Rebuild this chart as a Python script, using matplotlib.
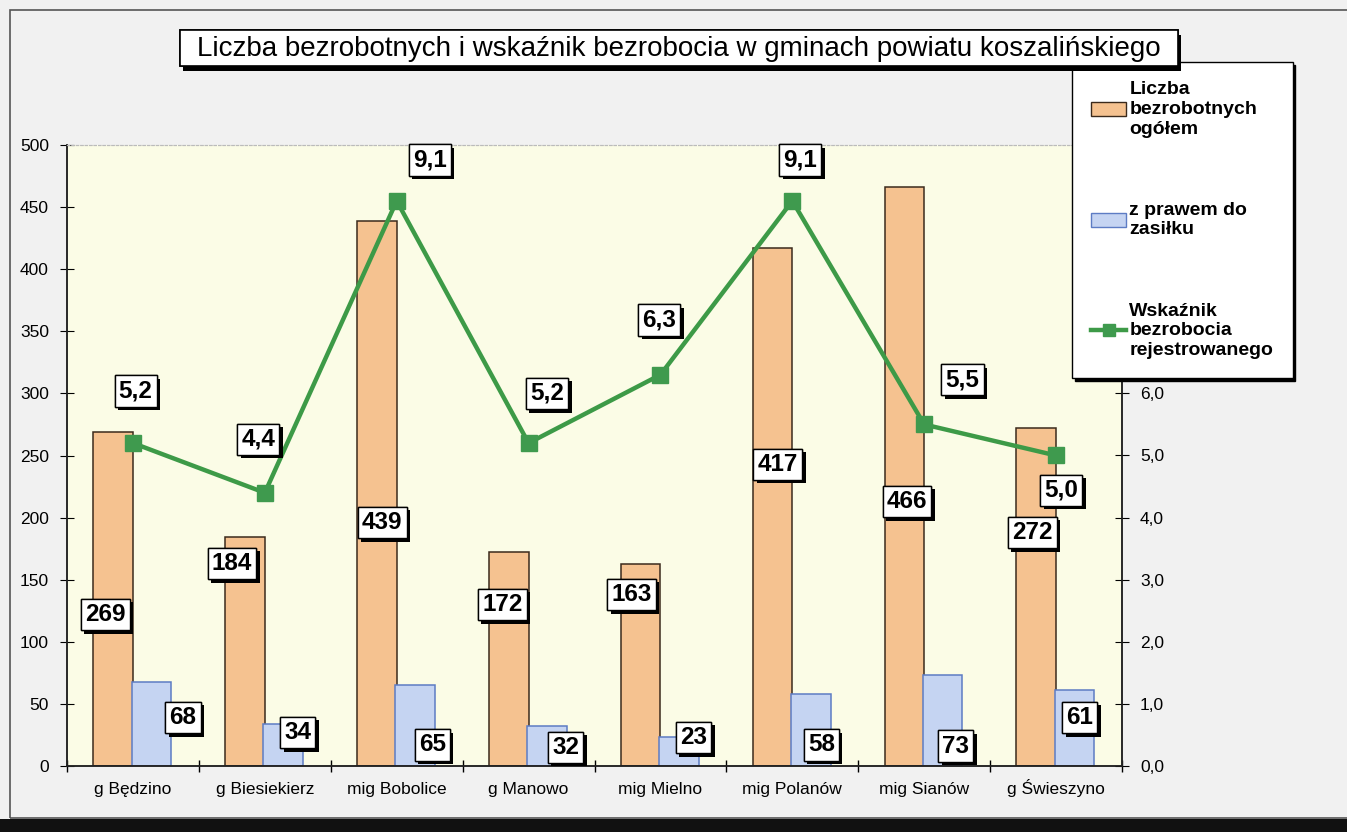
import matplotlib
matplotlib.use("Agg")
import matplotlib.pyplot as plt
import matplotlib.patheffects as pe
from matplotlib.patches import Patch, Rectangle
from matplotlib.lines import Line2D
import numpy as np

plt.rcParams['font.family'] = ['Liberation Sans', 'DejaVu Sans']

gminy = ["g Będzino", "g Biesiekierz", "mig Bobolice", "g Manowo",
         "mig Mielno", "mig Polanów", "mig Sianów", "g Świeszyno"]
bezrobotni = [269, 184, 439, 172, 163, 417, 466, 272]
z_zasilkiem = [68, 34, 65, 32, 23, 58, 73, 61]
wskaznik = [5.2, 4.4, 9.1, 5.2, 6.3, 9.1, 5.5, 5.0]

# where the data labels were dragged to (category x, left-axis y)
pos_bezr = [(-0.21, 122), (0.75, 163), (1.89, 196), (2.80, 130),
            (3.78, 138), (4.89, 243), (5.87, 213), (6.82, 188)]
pos_zas = [(0.38, 39), (1.25, 27), (2.27, 17), (3.28, 15),
           (4.25, 23), (5.22, 17), (6.24, 16), (7.18, 39)]
pos_wsk = [(0.02, 302), (0.95, 263), (2.25, 488), (3.14, 300),
           (3.99, 359), (5.06, 488), (6.29, 311), (7.04, 222)]

c_orange = "#f5c290"
c_blue = "#c5d4f2"
c_green = "#3d9a47"

shadow_fx = [pe.withSimplePatchShadow(offset=(2.5, -2.5), shadow_rgbFace="black", alpha=1),
             pe.Normal()]

fig = plt.figure(figsize=(13.47, 8.32), dpi=100)
fig.patch.set_facecolor("#f1f1f1")

# scan frame
fig.patches.append(Rectangle((10 / 1347, 14 / 832), 1.0, 1 - 24 / 832,
                             transform=fig.transFigure, fill=False,
                             edgecolor="#555555", linewidth=1.2))
fig.patches.append(Rectangle((0, 0), 1, 13 / 832, transform=fig.transFigure,
                             facecolor="#111111", edgecolor="none"))

ax = fig.add_axes([67 / 1347, 66 / 832, (1122 - 67) / 1347, (766 - 145) / 832])
ax.set_facecolor("#fbfce6")
ax2 = ax.twinx()

x = np.arange(len(gminy))
w = 0.3
ax.bar(x - 0.15, bezrobotni, w, color=c_orange, edgecolor="#3b2a1c", linewidth=1.1, zorder=2)
ax.bar(x + 0.14, z_zasilkiem, w, color=c_blue, edgecolor="#5d7cc4", linewidth=1.1, zorder=2)
ax2.plot(x, wskaznik, color=c_green, linewidth=3.2, marker="s", markersize=11,
         markerfacecolor="#3f9a4e", markeredgecolor="#3f9a4e", zorder=3)

ax.set_xlim(-0.5, 7.5)
ax.set_ylim(0, 500)
ax2.set_ylim(0, 10)
ax.set_yticks(np.arange(0, 501, 50))
# ticks above 6,0 sit behind the legend in the original
ax2.set_yticks(np.arange(0, 7, 1))
ax2.set_yticklabels([f"{v:.1f}".replace(".", ",") for v in np.arange(0, 7, 1)])
ax.set_xticks(x)
ax.set_xticklabels(gminy, fontsize=12.5)
for t in ax.get_xticklabels():
    t.set_verticalalignment("baseline")
ax.set_xticks(np.arange(-0.5, 8, 1), minor=True)
ax.tick_params(axis="x", which="major", length=0, pad=20)
ax.tick_params(axis="x", which="minor", length=8, direction="inout", width=1)
ax.tick_params(axis="y", length=10, direction="inout", labelsize=12.5, pad=8)
ax2.tick_params(axis="y", length=10, direction="inout", labelsize=12.5, pad=8)

for a in (ax, ax2):
    a.spines["top"].set_color("#bbbbbb")
    a.spines["top"].set_linestyle((0, (2, 2)))
    for s in ("left", "right", "bottom"):
        a.spines[s].set_color("#222222")
        a.spines[s].set_linewidth(1.1)


def box_label(text, xy):
    t = ax2.text(xy[0], xy[1], text, transform=ax.transData, ha="center", va="center",
                 fontsize=17.5, fontweight="bold", color="black", zorder=6,
                 bbox=dict(boxstyle="square,pad=0.17", facecolor="white",
                           edgecolor="black", linewidth=1))
    t.get_bbox_patch().set_path_effects(shadow_fx)


for v, p in zip(bezrobotni, pos_bezr):
    box_label(str(v), p)
for v, p in zip(z_zasilkiem, pos_zas):
    box_label(str(v), p)
for v, p in zip(wskaznik, pos_wsk):
    box_label(f"{v:.1f}".replace(".", ","), p)

# title box with shadow
title_box = Rectangle((180 / 1347, 1 - 66 / 832), 998 / 1347, 36 / 832,
                      transform=fig.transFigure, facecolor="white",
                      edgecolor="black", linewidth=1.2, zorder=5)
title_box.set_path_effects([pe.withSimplePatchShadow(offset=(2.5, -3.5), shadow_rgbFace="black",
                                                     alpha=1), pe.Normal()])
fig.patches.append(title_box)
fig.text(679 / 1347, 1 - 49 / 832,
         "Liczba bezrobotnych i wskaźnik bezrobocia w gminach powiatu koszalińskiego",
         ha="center", va="center", fontsize=20, color="black", zorder=6)

handles = [Patch(facecolor=c_orange, edgecolor="#3b2a1c"),
           Patch(facecolor=c_blue, edgecolor="#5d7cc4"),
           Line2D([], [], color=c_green, linewidth=3.2, marker="s", markersize=8,
                  markerfacecolor="#3f9a4e", markeredgecolor="#3f9a4e")]
labels = ["Liczba\nbezrobotnych\nogółem", "z prawem do\nzasiłku",
          "Wskaźnik\nbezrobocia\nrejestrowanego"]
leg = ax2.legend(handles, labels, loc="upper left", bbox_to_anchor=(1072 / 1347, 1 - 62 / 832),
                 bbox_transform=fig.transFigure, frameon=True, fancybox=False,
                 shadow={"color": "black", "alpha": 1}, edgecolor="black",
                 prop={"weight": "bold", "size": 14}, labelspacing=3.3,
                 handlelength=1.8, handletextpad=0.15, borderpad=1.0, borderaxespad=0)
for t in leg.get_texts():
    t.set_linespacing(1.2)
leg.get_frame().set_linewidth(1)
leg.set_zorder(10)

fig.savefig("out.png", dpi=100, facecolor=fig.get_facecolor())
